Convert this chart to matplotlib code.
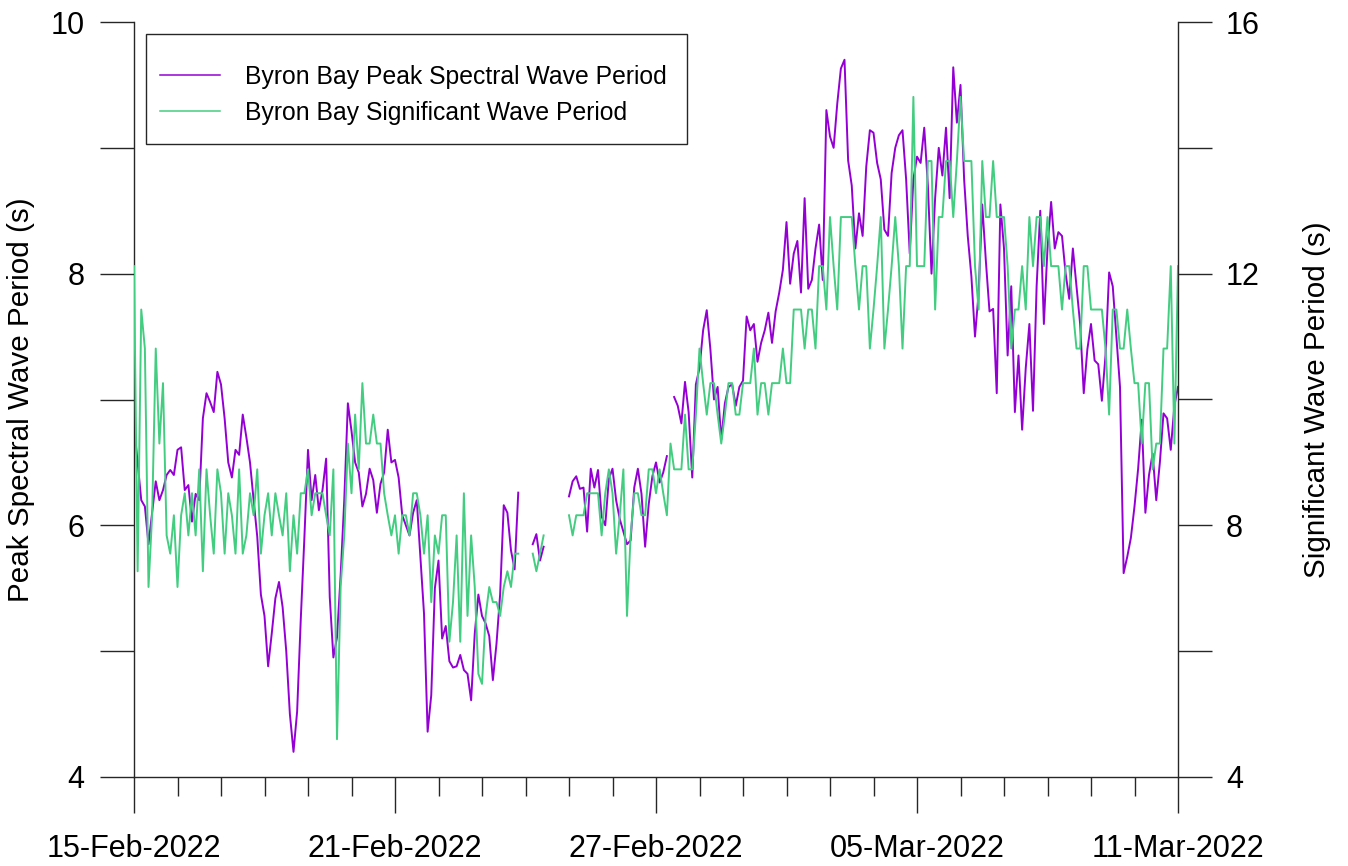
import numpy as np
import pandas as pd
import matplotlib
matplotlib.use("Agg")
import matplotlib.pyplot as plt
import matplotlib.dates as mdates
from matplotlib.patches import Rectangle

plt.rcParams['font.family'] = ['Liberation Sans', 'DejaVu Sans']

nan = np.nan
start_time = "2022-02-15 00:00"
step = "2h"

# Byron Bay peak spectral wave period (s), 2-hourly, left axis
peak_period = [
    6.8, 6.5, 6.2, 6.15, 5.85, 6.1, 6.35, 6.2, 6.28, 6.4, 6.44, 6.4,
    6.6, 6.62, 6.28, 6.32, 6.03, 6.25, 6.2, 6.85, 7.05, 6.98, 6.9, 7.22,
    7.12, 6.85, 6.5, 6.38, 6.6, 6.56, 6.88, 6.7, 6.5, 6.2, 5.91, 5.45,
    5.28, 4.88, 5.14, 5.42, 5.55, 5.35, 5.0, 4.5, 4.2, 4.52, 5.25, 5.9,
    6.6, 6.2, 6.4, 6.12, 6.28, 6.53, 5.43, 4.95, 5.11, 5.6, 6.2, 6.97,
    6.75, 6.5, 6.42, 6.15, 6.25, 6.45, 6.36, 6.1, 6.33, 6.42, 6.76, 6.5,
    6.52, 6.38, 6.08, 6.0, 5.92, 6.1, 6.2, 5.75, 5.3, 4.36, 4.65, 5.5,
    5.72, 5.1, 5.2, 4.92, 4.87, 4.88, 4.97, 4.85, 4.82, 4.61, 5.14, 5.45,
    5.28, 5.22, 5.12, 4.77, 5.06, 5.45, 6.16, 6.1, 5.8, 5.65, 6.26, nan,
    nan, nan, 5.85, 5.93, 5.72, 5.83, nan, nan, nan, nan, nan, nan,
    6.23, 6.35, 6.39, 6.29, 6.3, 5.95, 6.45, 6.3, 6.44, 6.07, 6.0, 6.37,
    6.45, 6.2, 6.05, 5.95, 5.85, 5.88, 6.3, 6.45, 6.25, 5.83, 6.17, 6.39,
    6.5, 6.34, 6.42, 6.55, nan, 7.02, 6.95, 6.81, 7.14, 6.9, 6.38, 7.12,
    7.25, 7.55, 7.71, 7.4, 7.0, 7.1, 6.68, 6.97, 7.1, 7.12, 6.95, 7.1,
    7.15, 7.66, 7.55, 7.6, 7.3, 7.45, 7.55, 7.69, 7.45, 7.7, 7.85, 8.03,
    8.41, 7.92, 8.16, 8.26, 7.85, 8.6, 7.88, 7.95, 8.2, 8.39, 7.95, 9.3,
    9.09, 9.0, 9.35, 9.63, 9.7, 8.9, 8.7, 8.2, 8.48, 8.3, 8.85, 9.14,
    9.12, 8.88, 8.75, 8.35, 8.3, 8.8, 9.0, 9.1, 9.14, 8.75, 8.16, 8.75,
    8.93, 8.88, 9.16, 8.7, 8.0, 8.6, 9.0, 8.78, 9.16, 8.6, 9.64, 9.2,
    9.5, 8.75, 8.3, 7.98, 7.5, 7.85, 8.55, 8.1, 7.7, 7.72, 7.05, 8.55,
    8.2, 7.35, 7.9, 6.9, 7.35, 6.76, 7.25, 7.6, 6.91, 7.9, 8.5, 7.6,
    8.2, 8.57, 8.2, 8.33, 8.3, 8.0, 7.8, 8.2, 7.9, 7.6, 7.05, 7.4,
    7.6, 7.31, 7.28, 6.99, 7.35, 8.01, 7.9, 7.5, 7.1, 5.62, 5.75, 5.9,
    6.15, 6.45, 6.84, 6.1, 6.4, 6.57, 6.2, 6.5, 6.89, 6.85, 6.6, 6.95,
    7.1,
]

# Byron Bay significant wave period (s), 2-hourly, right axis
sig_period = [
    12.12, 7.27, 11.43, 10.81, 7.02, 8.16, 10.81, 9.30, 10.26, 7.84, 7.55, 8.16,
    7.02, 8.16, 8.51, 7.84, 8.51, 7.84, 8.89, 7.27, 8.89, 8.16, 7.55, 8.89,
    8.51, 7.55, 8.51, 8.16, 7.55, 8.89, 7.55, 7.84, 8.51, 8.16, 8.89, 7.55,
    8.16, 8.51, 7.84, 8.51, 8.16, 7.84, 8.51, 7.27, 8.16, 7.55, 8.51, 8.51,
    8.89, 8.16, 8.51, 8.51, 8.51, 8.16, 7.84, 8.89, 4.60, 7.02, 7.84, 9.30,
    8.51, 9.76, 8.89, 10.26, 9.30, 9.30, 9.76, 9.30, 9.30, 8.51, 8.16, 7.84,
    8.16, 7.55, 8.16, 8.16, 7.84, 8.51, 8.51, 8.16, 7.55, 8.16, 6.78, 7.84,
    7.55, 8.16, 8.16, 6.15, 6.78, 7.84, 6.15, 8.51, 6.56, 7.84, 7.02, 5.64,
    5.48, 6.56, 7.02, 6.78, 6.78, 6.56, 7.02, 7.27, 7.02, 7.55, 7.55, nan,
    nan, nan, 7.55, 7.27, 7.55, 7.84, nan, nan, nan, nan, nan, nan,
    8.16, 7.84, 8.16, 8.16, 8.16, 8.51, 8.51, 8.51, 8.51, 7.84, 8.51, 8.89,
    8.51, 7.55, 8.16, 8.89, 6.56, 7.84, 8.51, 8.51, 8.16, 8.16, 8.89, 8.89,
    8.51, 8.89, 8.51, 8.16, 9.30, 8.89, 8.89, 8.89, 9.76, 8.89, 8.89, 9.76,
    10.81, 10.26, 9.76, 10.26, 10.26, 9.76, 9.30, 9.76, 10.26, 10.26, 9.76, 9.76,
    10.26, 10.26, 10.26, 10.81, 9.76, 10.26, 10.26, 9.76, 10.26, 10.26, 10.26, 10.81,
    10.26, 10.26, 11.43, 11.43, 11.43, 10.81, 11.43, 11.43, 10.81, 12.12, 12.12, 11.43,
    12.90, 12.12, 11.43, 12.90, 12.90, 12.90, 12.90, 12.12, 11.43, 12.12, 12.12, 10.81,
    11.43, 12.12, 12.90, 10.81, 11.43, 12.12, 12.90, 12.12, 10.81, 12.12, 12.12, 14.81,
    12.12, 12.12, 12.12, 13.79, 13.79, 11.43, 12.90, 12.90, 13.79, 13.79, 12.90, 13.79,
    14.81, 13.79, 13.79, 13.79, 12.12, 11.43, 13.79, 12.90, 12.90, 13.79, 12.90, 12.90,
    12.90, 12.12, 10.81, 11.43, 11.43, 12.12, 11.43, 12.90, 12.12, 12.90, 12.90, 12.12,
    12.90, 12.12, 12.12, 12.12, 11.43, 12.12, 12.12, 11.43, 10.81, 10.81, 12.12, 12.12,
    11.43, 11.43, 11.43, 11.43, 10.81, 9.76, 11.43, 11.43, 10.81, 10.81, 11.43, 10.81,
    10.26, 10.26, 9.30, 10.26, 10.26, 8.89, 9.30, 9.30, 10.81, 10.81, 12.12, 9.30,
    12.12,
]

left_ticks = [4, 6, 8, 10]
left_minor = [5, 7, 9]
right_ticks = [4, 8, 12, 16]
right_minor = [6, 10, 14]
x_start = "2022-02-15"
x_end = "2022-03-11"
label_peak = "Byron Bay Peak Spectral Wave Period"
label_sig = "Byron Bay Significant Wave Period"
ylabel_left = "Peak Spectral Wave Period (s)"
ylabel_right = "Significant Wave Period (s)"

times = pd.date_range(start_time, periods=len(peak_period), freq=step)

W, H = 1348, 866
fig = plt.figure(figsize=(W / 100, H / 100), dpi=100)
ax = fig.add_axes([134 / W, 1 - 777 / H, (1178 - 134) / W, (777 - 22) / H])
ax2 = ax.twinx()

purple = '#9400D3'
green = '#43CD80'
axcol = '#262626'

l1, = ax.plot(times, peak_period, color=purple, lw=1.4)
l2, = ax2.plot(times, sig_period, color=green, lw=1.4)

ax.set_xlim(pd.Timestamp(x_start), pd.Timestamp(x_end))
ax.set_ylim(4, 10)
ax2.set_ylim(4, 16)

ax.set_yticks(left_ticks)
ax.set_yticks(left_minor, minor=True)
ax2.set_yticks(right_ticks)
ax2.set_yticks(right_minor, minor=True)

ax.set_xticks(pd.date_range(x_start, x_end, freq='6D'))
ax.set_xticks(pd.date_range(x_start, x_end, freq='1D'), minor=True)
ax.xaxis.set_major_formatter(mdates.DateFormatter('%d-%b-%Y'))

for s in ['top', 'right']:
    ax.spines[s].set_visible(False)
for s in ['top', 'left', 'bottom']:
    ax2.spines[s].set_visible(False)
for a in (ax, ax2):
    for s in a.spines.values():
        s.set_color(axcol)
        s.set_linewidth(1.0)

tick_fs = 22
ax.tick_params(axis='y', which='both', direction='out', length=24.5, width=1.0,
               color=axcol, labelsize=tick_fs, pad=11)
ax2.tick_params(axis='y', which='both', direction='out', length=24.5, width=1.0,
                color=axcol, labelsize=tick_fs, pad=10)
ax.tick_params(axis='x', which='major', direction='out', length=26, width=1.0,
               color=axcol, labelsize=tick_fs, pad=15)
ax.tick_params(axis='x', which='minor', direction='out', length=13.7, width=1.0,
               color=axcol)

ax.set_ylabel(ylabel_left, fontsize=21.3)
ax.yaxis.set_label_coords(-0.0948, 0.5)
ax2.set_ylabel(ylabel_right, fontsize=21.3)
ax2.yaxis.set_label_coords(1.1197, 0.5)

# legend frame and entries
fig.patches.append(Rectangle((146 / W, 1 - 144 / H), (687 - 146) / W, (144 - 34) / H,
                             transform=fig.transFigure, fill=False,
                             edgecolor=axcol, linewidth=1.0))
leg = fig.legend([l1, l2], [label_peak, label_sig], loc='upper left',
                 bbox_to_anchor=(160 / W, 1 - 65 / H), frameon=False,
                 fontsize=17.8, handlelength=2.43, handletextpad=1.0,
                 borderpad=0, borderaxespad=0, labelspacing=0.48)
for lh in leg.get_lines():
    lh.set_linewidth(1.1)

fig.savefig('out.png', dpi=100)
